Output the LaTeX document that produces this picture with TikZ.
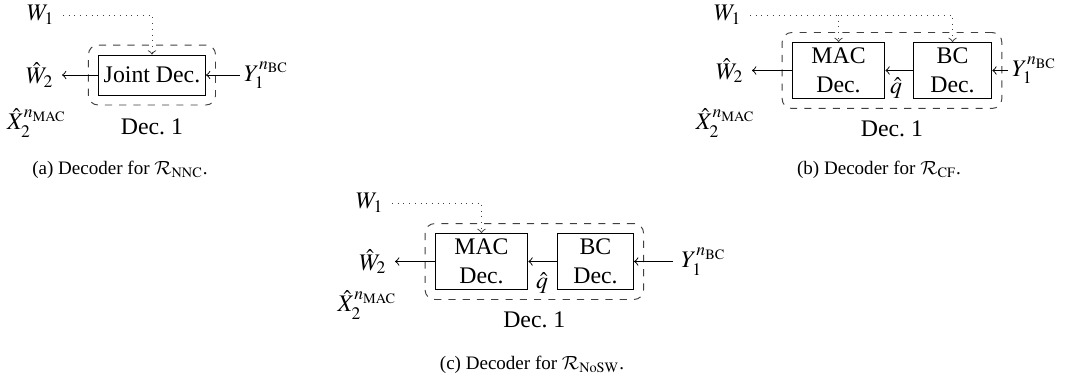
\documentclass[tikz,border=0pt]{standalone}
\usepackage{mathptmx}
\usepackage{fontspec}
\setmainfont{Liberation Serif}
\DeclareMathAlphabet{\mathcal}{OMS}{cmsy}{m}{n}
\usetikzlibrary{fit,positioning}

\begin{document}
\begin{tikzpicture}[
        decbox/.style={draw,align=center,inner sep=2pt,minimum height=23.5pt},
        grpbox/.style={draw=black!75,dashed,rounded corners=4pt,inner sep=4pt},
        infoline/.style={draw=black!75,dotted,->},
        sigline/.style={->},
    ]

        % Background
        \useasboundingbox (0,0) rectangle (15.746,5.613);

        % (a) Decoder NNC
        \node[decbox,minimum width=45pt,minimum height=16.8pt] (jointdec) at (2.245,4.505) {Joint Dec.};
        \node[grpbox,fit=(jointdec)] (deca) {};
        \node[below=2.2pt of deca] (dec1a) {Dec.~1};
        \node[anchor=east] (w1a) at (0.93,5.391) {$W_1$};
        \node[anchor=east] (w2a) at (0.916,4.505) {$\hat{W}_2$};
        \node[anchor=west,inner sep=1.5pt] (y1a) at (3.545,4.505) {$Y_1^{n_{\mathrm{BC}}}$};
        \node (x2a) at (0.547,3.796) {$\hat{X}_2^{n_{\mathrm{MAC}}}$};
        \draw[infoline] (w1a.east) -| (jointdec.north);
        \draw[sigline] (jointdec.west) -- (w2a.east);
        \draw[sigline] (y1a.west) -- (jointdec.east);
        \node[font=\footnotesize] (capa) at (1.773,3.102) {(a) Decoder for $\mathcal{R}_{\mathrm{NNC}}$.};

        % (b) Decoder CF
        \node[decbox,minimum width=39pt] (macdecb) at (12.386,4.572) {MAC\\Dec.};
        \node[decbox,minimum width=33pt] (bcdecb) at (14.07,4.572) {BC\\Dec.};
        \node[grpbox,fit=(macdecb)(bcdecb)] (decb) {};
        \node[below=1.3pt of decb] (dec1b) {Dec.~1};
        \node[anchor=east] (w1b) at (11.078,5.391) {$W_1$};
        \node[anchor=east] (w2b) at (11.108,4.572) {$\hat{W}_2$};
        \node[anchor=west,inner sep=1.5pt] (y1b) at (14.889,4.572) {$Y_1^{n_{\mathrm{BC}}}$};
        \node (x2b) at (10.72,3.796) {$\hat{X}_2^{n_{\mathrm{MAC}}}$};
        \node (qhatb) at (13.235,4.313) {$\hat{q}$};
        \draw[infoline] (w1b.east) -| (bcdecb.north);
        \draw[infoline] (w1b.east -| macdecb.north) -- (macdecb.north);
        \draw[sigline] (macdecb.west) -- (w2b.east);
        \draw[sigline] (bcdecb.west) -- (macdecb.east);
        \draw[sigline] (y1b.west) -- (bcdecb.east);
        \node[font=\footnotesize] (capb) at (12.984,3.102) {(b) Decoder for $\mathcal{R}_{\mathrm{CF}}$.};

        % (c) Decoder NoSW
        \node[decbox,minimum width=39pt] (macdecc) at (7.112,1.75) {MAC\\Dec.};
        \node[decbox,minimum width=32pt] (bcdecc) at (8.796,1.75) {BC\\Dec.};
        \node[grpbox,fit=(macdecc)(bcdecc)] (decc) {};
        \node[below=1.3pt of decc] (dec1c) {Dec.~1};
        \node[anchor=east] (w1c) at (5.79,2.614) {$W_1$};
        \node[anchor=east] (w2c) at (5.835,1.75) {$\hat{W}_2$};
        \node[anchor=west] (y1c) at (9.941,1.75) {$Y_1^{n_{\mathrm{BC}}}$};
        \node (x2c) at (5.43,1.108) {$\hat{X}_2^{n_{\mathrm{MAC}}}$};
        \node (qhatc) at (8.006,1.433) {$\hat{q}$};
        \draw[infoline] (w1c.east) -| (macdecc.north);
        \draw[sigline] (macdecc.west) -- (w2c.east);
        \draw[sigline] (bcdecc.west) -- (macdecc.east);
        \draw[sigline] (y1c.west) -- (bcdecc.east);
        \node[font=\footnotesize] (capc) at (7.858,0.222) {(c) Decoder for $\mathcal{R}_{\mathrm{NoSW}}$.};

    \end{tikzpicture}
\end{document}
